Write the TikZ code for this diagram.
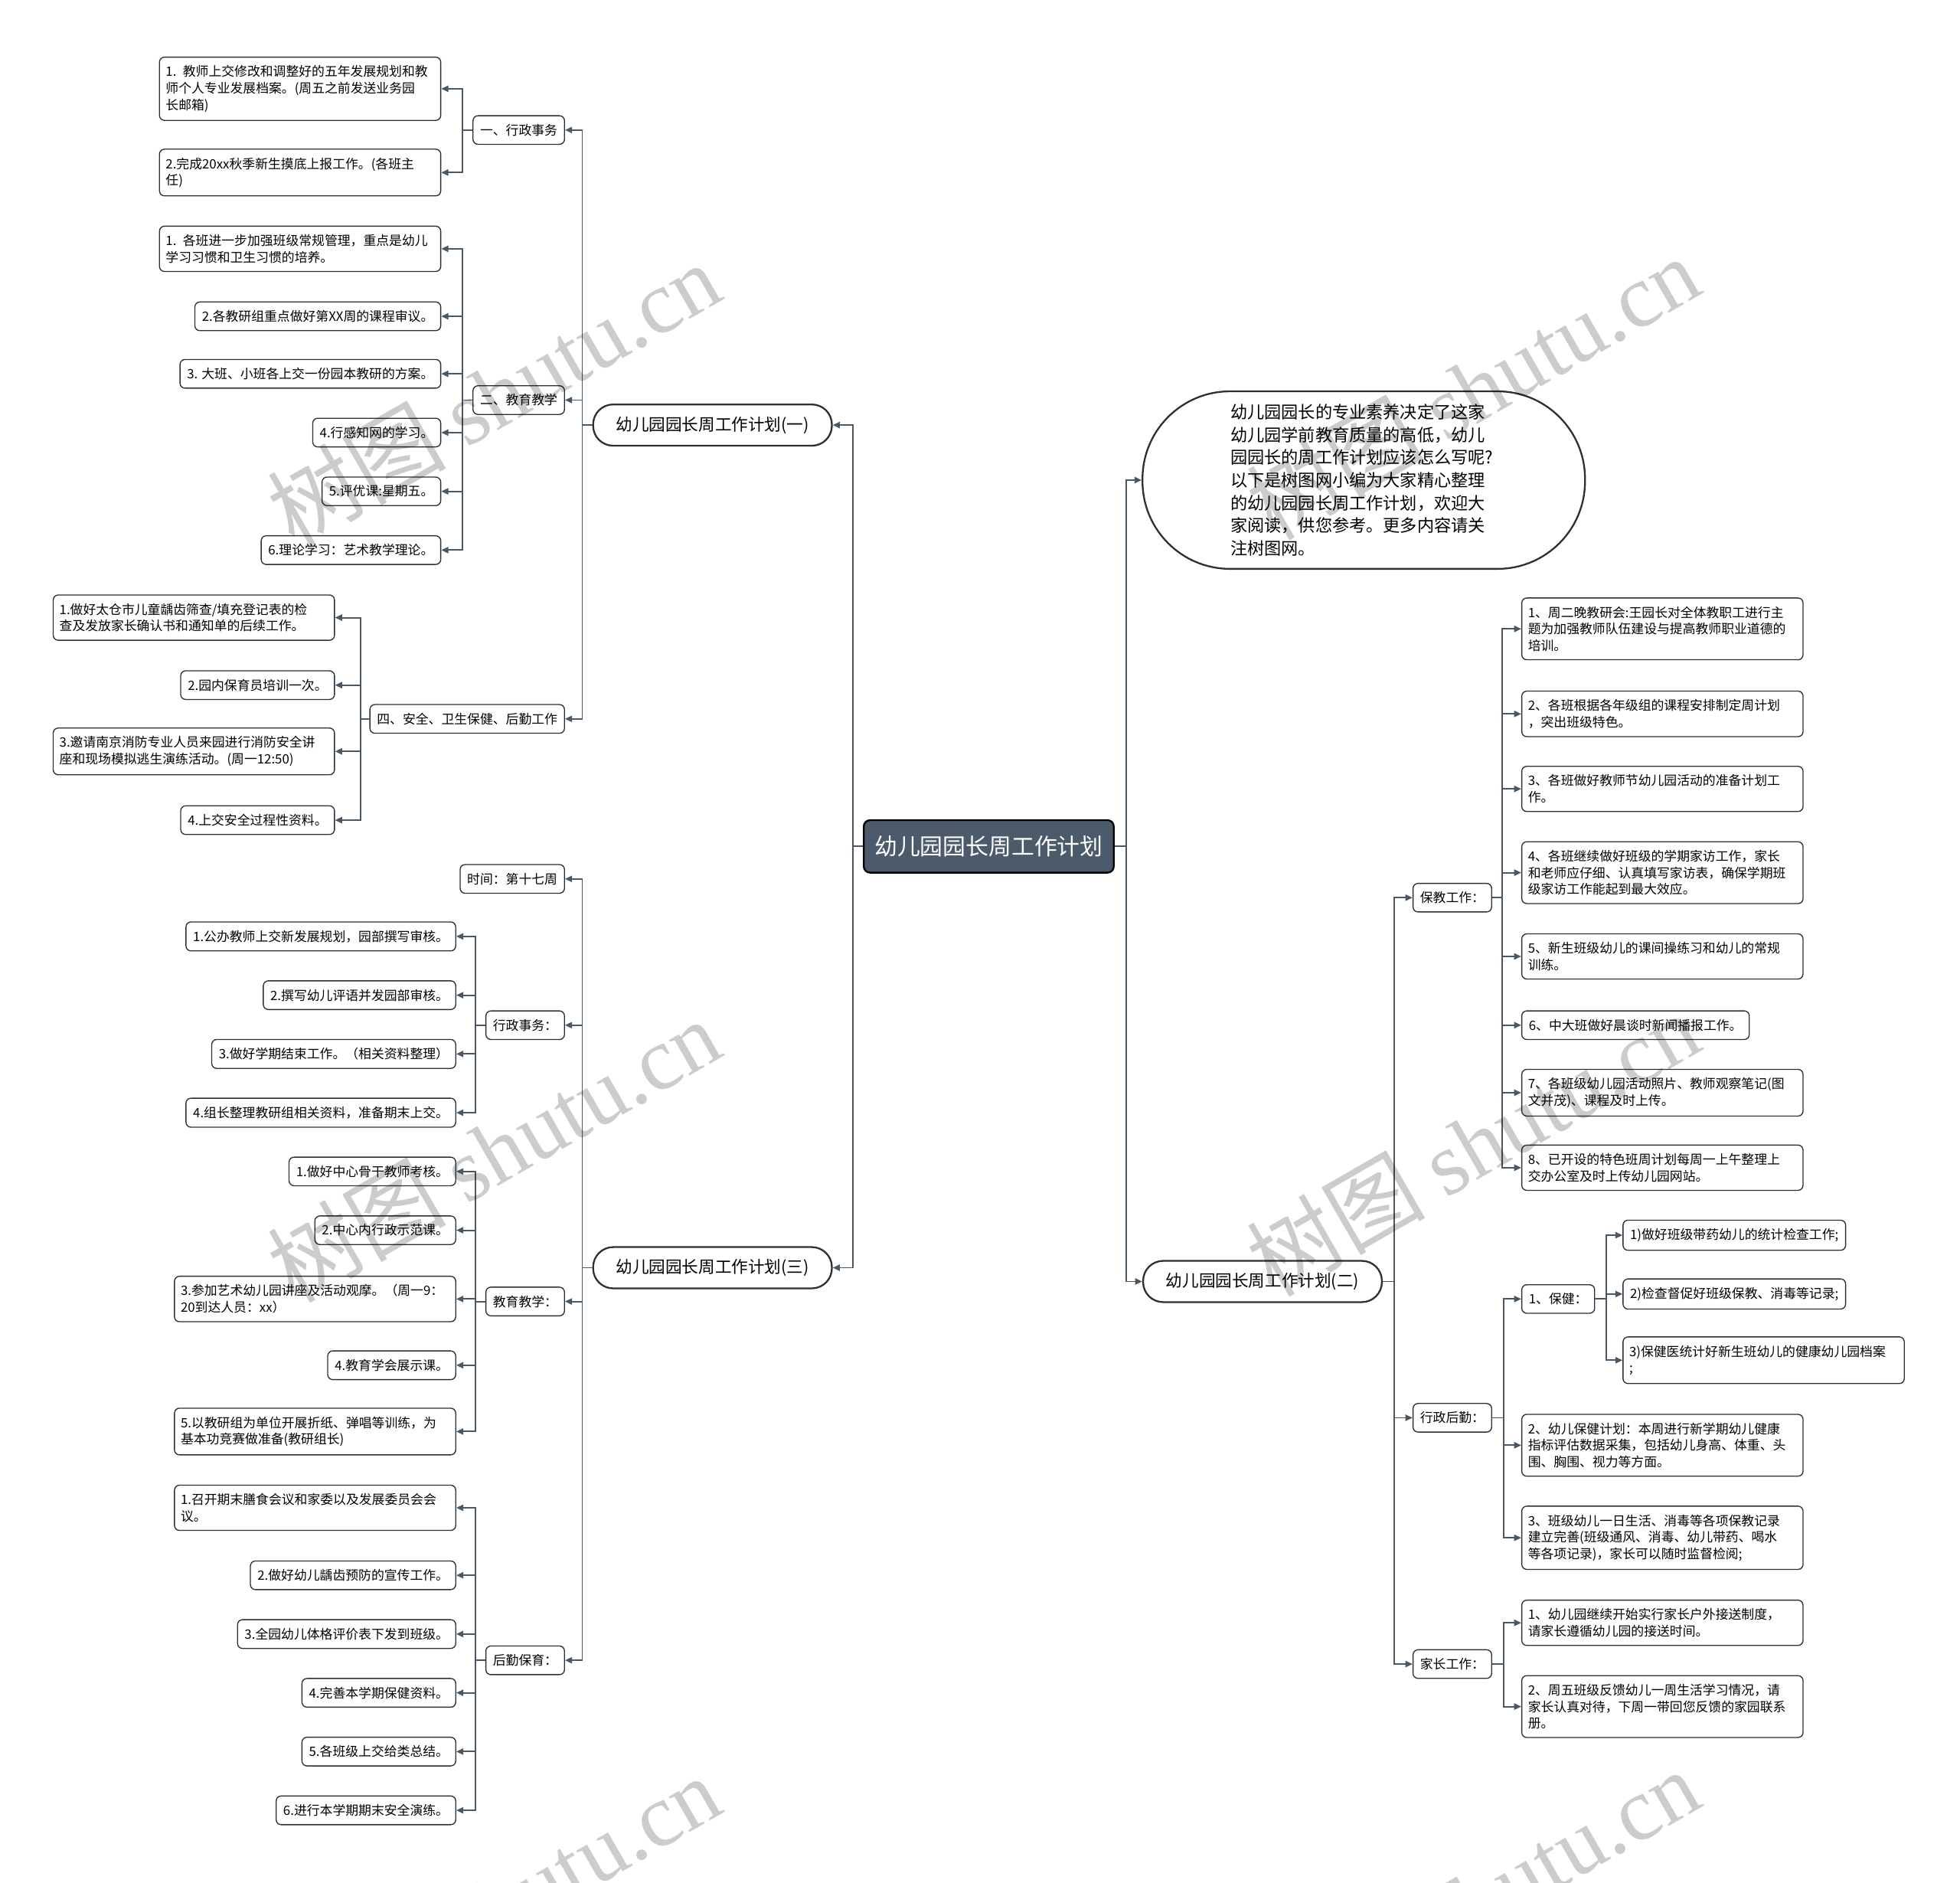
\documentclass[tikz,border=0pt]{standalone}
\usepackage{fontspec}
\setmainfont{Noto Sans CJK SC}
\newfontfamily\markfont{Liberation Serif}
\usepackage{tikz}
\tikzset{every picture/.style={line width=0.75pt}}
\usetikzlibrary{positioning, calc, arrows.meta}

\definecolor{linkgray}{HTML}{4A5866}
\definecolor{hubfill}{HTML}{4B5B6B}
\definecolor{boxedge}{HTML}{2B3036}

\begin{document}
\begin{tikzpicture}[
		x=0.03cm, y=-0.03cm,
		% Connector from a parent to one child
		link/.style={
			draw=linkgray,
			line width=1pt,
			-{Triangle[length=1.7mm, width=1.5mm]}
		},
		% Plain text boxes
		leaf/.style={
			draw=boxedge, fill=white,
			line width=0.7pt,
			rounded corners=0.12cm,
			inner xsep=0.17cm, inner ysep=0.2cm,
			font=\fontsize{8.8}{11.3}\selectfont
		},
		% Boxes whose text runs over several lines
		wideleaf/.style={
			leaf,
			text width=6.45cm,
			inner xsep=0.15cm,
			align=left
		},
		% Category boxes
		topic/.style={leaf},
		% Stadium boxes of the three plans
		plan/.style={
			draw=boxedge, fill=white,
			line width=1.2pt,
			rounded corners=0.48cm,
			minimum width=5.73cm, minimum height=0.99cm,
			font=\fontsize{11.3}{13}\selectfont
		},
		% Introduction bubble
		intro/.style={
			draw=boxedge, fill=white,
			line width=1.2pt,
			rounded corners=2.1cm,
			minimum width=10.62cm, minimum height=4.26cm,
			text width=6.4cm, align=left,
			font=\fontsize{11.6}{15.5}\selectfont
		},
		% Central box
		hub/.style={
			draw=black, fill=hubfill, text=white,
			line width=1.2pt, rounded corners=0.15cm,
			minimum width=6cm, minimum height=1.26cm,
			font=\fontsize{15.6}{18}\selectfont
		},
		% Site watermark
		stamp/.style={
			text=black, opacity=0.2,
			rotate=30,
			font=\fontsize{61}{66}\selectfont
		}
		]
		
		% Page frame
		\useasboundingbox (0,0) rectangle (1568,1506);
		
		% --- Centre and plans ---
		\node[hub] (hub) at (791,677) {幼儿园园长周工作计划};
		\node[plan] (planA) at (570,340) {幼儿园园长周工作计划(一)};
		\node[plan] (planC) at (570,1014) {幼儿园园长周工作计划(三)};
		\node[plan] (planB) at (1010,1025) {幼儿园园长周工作计划(二)};
		\node[intro] (intro) at (1091,384) {幼儿园园长的专业素养决定了这家\\幼儿园学前教育质量的高低，幼儿\\园园长的周工作计划应该怎么写呢?\\以下是树图网小编为大家精心整理\\的幼儿园园长周工作计划，欢迎大\\家阅读，供您参考。更多内容请关\\注树图网。};
		
		% --- Plan (一) ---
		\node[topic, anchor=east] (a1) at (452,104) {一、行政事务};
		\node[topic, anchor=east] (a2) at (452,320) {二、教育教学};
		\node[topic, anchor=east] (a4) at (452,575) {四、安全、卫生保健、后勤工作};
		
		\node[wideleaf, anchor=east] (a11) at (353,71) {1. 教师上交修改和调整好的五年发展规划和教\\师个人专业发展档案。(周五之前发送业务园\\长邮箱)};
		\node[wideleaf, anchor=east] (a12) at (353,138) {2.完成20xx秋季新生摸底上报工作。(各班主\\任)};
		
		\node[wideleaf, anchor=east] (a21) at (353,199) {1. 各班进一步加强班级常规管理，重点是幼儿\\学习习惯和卫生习惯的培养。};
		\node[leaf, anchor=east] (a22) at (353,253) {2.各教研组重点做好第XX周的课程审议。};
		\node[leaf, anchor=east] (a23) at (353,299) {3. 大班、小班各上交一份园本教研的方案。};
		\node[leaf, anchor=east] (a24) at (353,346) {4.行感知网的学习。};
		\node[leaf, anchor=east] (a25) at (353,393) {5.评优课:星期五。};
		\node[leaf, anchor=east] (a26) at (353,440) {6.理论学习：艺术教学理论。};
		
		\node[wideleaf, anchor=east] (a41) at (268,494) {1.做好太仓市儿童龋齿筛查/填充登记表的检\\查及发放家长确认书和通知单的后续工作。};
		\node[leaf, anchor=east] (a42) at (268,548) {2.园内保育员培训一次。};
		\node[wideleaf, anchor=east] (a43) at (268,601) {3.邀请南京消防专业人员来园进行消防安全讲\\座和现场模拟逃生演练活动。(周一12:50)};
		\node[leaf, anchor=east] (a44) at (268,656) {4.上交安全过程性资料。};
		
		% --- Plan (三) ---
		\node[topic, anchor=east] (c0) at (452,703) {时间：第十七周};
		\node[topic, anchor=east] (c1) at (452,820) {行政事务：};
		\node[topic, anchor=east] (c2) at (452,1041) {教育教学：};
		\node[topic, anchor=east] (c3) at (452,1328) {后勤保育：};
		
		\node[leaf, anchor=east] (c11) at (365,749) {1.公办教师上交新发展规划，园部撰写审核。};
		\node[leaf, anchor=east] (c12) at (365,796) {2.撰写幼儿评语并发园部审核。};
		\node[leaf, anchor=east] (c13) at (365,843) {3.做好学期结束工作。（相关资料整理）};
		\node[leaf, anchor=east] (c14) at (365,890) {4.组长整理教研组相关资料，准备期末上交。};
		
		\node[leaf, anchor=east] (c21) at (365,937) {1.做好中心骨干教师考核。};
		\node[leaf, anchor=east] (c22) at (365,984) {2.中心内行政示范课。};
		\node[wideleaf, anchor=east] (c23) at (365,1039) {3.参加艺术幼儿园讲座及活动观摩。（周一9：\\20到达人员：xx）};
		\node[leaf, anchor=east] (c24) at (365,1092) {4.教育学会展示课。};
		\node[wideleaf, anchor=east] (c25) at (365,1145) {5.以教研组为单位开展折纸、弹唱等训练，为\\基本功竞赛做准备(教研组长)};
		
		\node[wideleaf, anchor=east] (c31) at (365,1206) {1.召开期末膳食会议和家委以及发展委员会会\\议。};
		\node[leaf, anchor=east] (c32) at (365,1260) {2.做好幼儿龋齿预防的宣传工作。};
		\node[leaf, anchor=east] (c33) at (365,1307) {3.全园幼儿体格评价表下发到班级。};
		\node[leaf, anchor=east] (c34) at (365,1354) {4.完善本学期保健资料。};
		\node[leaf, anchor=east] (c35) at (365,1401) {5.各班级上交给类总结。};
		\node[leaf, anchor=east] (c36) at (365,1448) {6.进行本学期期末安全演练。};
		
		% --- Plan (二) ---
		\node[topic, anchor=west] (b1) at (1130,718) {保教工作：};
		\node[topic, anchor=west] (b2) at (1130,1134) {行政后勤：};
		\node[topic, anchor=west] (b3) at (1130,1331) {家长工作：};
		
		\node[wideleaf, anchor=west] (b11) at (1217,503) {1、周二晚教研会:王园长对全体教职工进行主\\题为加强教师队伍建设与提高教师职业道德的\\培训。};
		\node[wideleaf, anchor=west] (b12) at (1217,571) {2、各班根据各年级组的课程安排制定周计划\\，突出班级特色。};
		\node[wideleaf, anchor=west] (b13) at (1217,631) {3、各班做好教师节幼儿园活动的准备计划工\\作。};
		\node[wideleaf, anchor=west] (b14) at (1217,698) {4、各班继续做好班级的学期家访工作，家长\\和老师应仔细、认真填写家访表，确保学期班\\级家访工作能起到最大效应。};
		\node[wideleaf, anchor=west] (b15) at (1217,765) {5、新生班级幼儿的课间操练习和幼儿的常规\\训练。};
		\node[leaf, anchor=west] (b16) at (1217,820) {6、中大班做好晨谈时新闻播报工作。};
		\node[wideleaf, anchor=west] (b17) at (1217,874) {7、各班级幼儿园活动照片、教师观察笔记(图\\文并茂)、课程及时上传。};
		\node[wideleaf, anchor=west] (b18) at (1217,934) {8、已开设的特色班周计划每周一上午整理上\\交办公室及时上传幼儿园网站。};
		
		\node[leaf, anchor=west] (b21) at (1217,1039) {1、保健：};
		\node[wideleaf, anchor=west] (b22) at (1217,1156) {2、幼儿保健计划：本周进行新学期幼儿健康\\指标评估数据采集，包括幼儿身高、体重、头\\围、胸围、视力等方面。};
		\node[wideleaf, anchor=west] (b23) at (1217,1230) {3、班级幼儿一日生活、消毒等各项保教记录\\建立完善(班级通风、消毒、幼儿带药、喝水\\等各项记录)，家长可以随时监督检阅;};
		
		\node[leaf, anchor=west] (b211) at (1298,988) {1)做好班级带药幼儿的统计检查工作;};
		\node[leaf, anchor=west] (b212) at (1298,1035) {2)检查督促好班级保教、消毒等记录;};
		\node[wideleaf, anchor=west] (b213) at (1298,1088) {3)保健医统计好新生班幼儿的健康幼儿园档案\\;};
		
		\node[wideleaf, anchor=west] (b31) at (1217,1298) {1、幼儿园继续开始实行家长户外接送制度，\\请家长遵循幼儿园的接送时间。};
		\node[wideleaf, anchor=west] (b32) at (1217,1365) {2、周五班级反馈幼儿一周生活学习情况，请\\家长认真对待，下周一带回您反馈的家园联系\\册。};
		
		% --- Connectors, left half ---
		\draw[link] (hub.west) -- ++(-8,0) |- (planA.east);
		\draw[link] (hub.west) -- ++(-8,0) |- (planC.east);
		
		\draw[link] (planA.west) -- ++(-8,0) |- (a1.east);
		\draw[link] (planA.west) -- ++(-8,0) |- (a2.east);
		\draw[link] (planA.west) -- ++(-8,0) |- (a4.east);
		\draw[link] (a1.west) -- ++(-8,0) |- (a11.east);
		\draw[link] (a1.west) -- ++(-8,0) |- (a12.east);
		\draw[link] (a2.west) -- ++(-8,0) |- (a21.east);
		\draw[link] (a2.west) -- ++(-8,0) |- (a22.east);
		\draw[link] (a2.west) -- ++(-8,0) |- (a23.east);
		\draw[link] (a2.west) -- ++(-8,0) |- (a24.east);
		\draw[link] (a2.west) -- ++(-8,0) |- (a25.east);
		\draw[link] (a2.west) -- ++(-8,0) |- (a26.east);
		\draw[link] (a4.west) -- ++(-7,0) |- (a41.east);
		\draw[link] (a4.west) -- ++(-7,0) |- (a42.east);
		\draw[link] (a4.west) -- ++(-7,0) |- (a43.east);
		\draw[link] (a4.west) -- ++(-7,0) |- (a44.east);
		
		\draw[link] (planC.west) -- ++(-8,0) |- (c0.east);
		\draw[link] (planC.west) -- ++(-8,0) |- (c1.east);
		\draw[link] (planC.west) -- ++(-8,0) |- (c2.east);
		\draw[link] (planC.west) -- ++(-8,0) |- (c3.east);
		\draw[link] (c1.west) -- ++(-8,0) |- (c11.east);
		\draw[link] (c1.west) -- ++(-8,0) |- (c12.east);
		\draw[link] (c1.west) -- ++(-8,0) |- (c13.east);
		\draw[link] (c1.west) -- ++(-8,0) |- (c14.east);
		\draw[link] (c2.west) -- ++(-8,0) |- (c21.east);
		\draw[link] (c2.west) -- ++(-8,0) |- (c22.east);
		\draw[link] (c2.west) -- ++(-8,0) |- (c23.east);
		\draw[link] (c2.west) -- ++(-8,0) |- (c24.east);
		\draw[link] (c2.west) -- ++(-8,0) |- (c25.east);
		\draw[link] (c3.west) -- ++(-8,0) |- (c31.east);
		\draw[link] (c3.west) -- ++(-8,0) |- (c32.east);
		\draw[link] (c3.west) -- ++(-8,0) |- (c33.east);
		\draw[link] (c3.west) -- ++(-8,0) |- (c34.east);
		\draw[link] (c3.west) -- ++(-8,0) |- (c35.east);
		\draw[link] (c3.west) -- ++(-8,0) |- (c36.east);
		
		% --- Connectors, right half ---
		\draw[link] (hub.east) -- ++(9,0) |- (intro.west);
		\draw[link] (hub.east) -- ++(9,0) |- (planB.west);
		
		\draw[link] (planB.east) -- ++(9,0) |- (b1.west);
		\draw[link] (planB.east) -- ++(9,0) |- (b2.west);
		\draw[link] (planB.east) -- ++(9,0) |- (b3.west);
		\draw[link] (b1.east) -- ++(8,0) |- (b11.west);
		\draw[link] (b1.east) -- ++(8,0) |- (b12.west);
		\draw[link] (b1.east) -- ++(8,0) |- (b13.west);
		\draw[link] (b1.east) -- ++(8,0) |- (b14.west);
		\draw[link] (b1.east) -- ++(8,0) |- (b15.west);
		\draw[link] (b1.east) -- ++(8,0) |- (b16.west);
		\draw[link] (b1.east) -- ++(8,0) |- (b17.west);
		\draw[link] (b1.east) -- ++(8,0) |- (b18.west);
		\draw[link] (b2.east) -- ++(9,0) |- (b21.west);
		\draw[link] (b2.east) -- ++(9,0) |- (b22.west);
		\draw[link] (b2.east) -- ++(9,0) |- (b23.west);
		\draw[link] (b21.east) -- ++(9,0) |- (b211.west);
		\draw[link] (b21.east) -- ++(9,0) |- (b212.west);
		\draw[link] (b21.east) -- ++(9,0) |- (b213.west);
		\draw[link] (b3.east) -- ++(9,0) |- (b31.west);
		\draw[link] (b3.east) -- ++(9,0) |- (b32.west);
		
		% --- Watermarks ---
		\node[stamp] (wm1) at (395,315) {树图 {\markfont shutu.cn}};
		\node[stamp] (wm2) at (1178,310) {树图 {\markfont shutu.cn}};
		\node[stamp] (wm3) at (395,920) {树图 {\markfont shutu.cn}};
		\node[stamp] (wm4) at (1178,915) {树图 {\markfont shutu.cn}};
		\node[stamp] (wm5) at (395,1525) {树图 {\markfont shutu.cn}};
		\node[stamp] (wm6) at (1178,1520) {树图 {\markfont shutu.cn}};
		
	\end{tikzpicture}
\end{document}
